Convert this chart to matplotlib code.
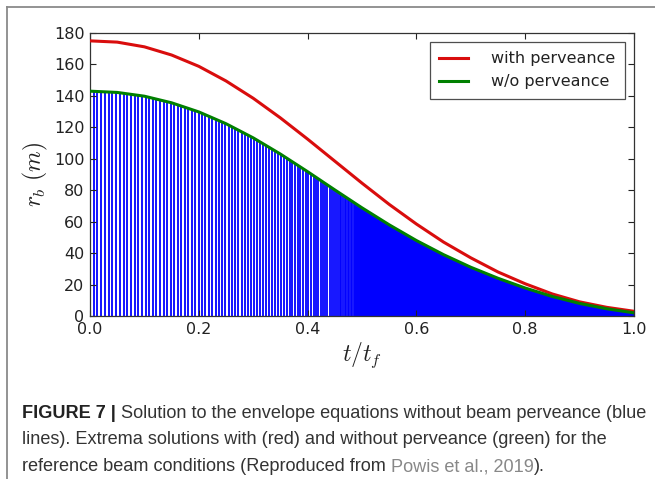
import numpy as np
import matplotlib
matplotlib.use("Agg")
import matplotlib.pyplot as plt
from matplotlib.lines import Line2D

# ---- data ----
t_env = [0.0, 0.05, 0.1, 0.15, 0.2, 0.25, 0.3, 0.35, 0.4, 0.45, 0.5,
         0.55, 0.6, 0.65, 0.7, 0.75, 0.8, 0.85, 0.9, 0.95, 1.0]
r_with_perveance = [175, 174.2, 171.2, 166, 158.8, 149.5, 138.5, 126, 112.5, 98.5, 84.5,
                    71, 58.5, 47, 37, 28, 20.5, 14, 9, 5.5, 3]
r_without_perveance = [143, 142.2, 139.8, 135.6, 129.8, 122.3, 113.3, 103, 91.8, 80.2, 68.8,
                       58, 48, 39, 31, 24, 17.8, 12.4, 8, 4.6, 2]

# spacing between successive blue oscillation spikes, read at several times
spike_period_t = [0.0, 0.1, 0.2, 0.3, 0.4, 0.45, 0.49, 0.5, 1.0]
spike_period = [0.0069, 0.0067, 0.0063, 0.0057, 0.0048, 0.0036, 0.0022, 0.0008, 0.0006]

x_ticks = [0.0, 0.2, 0.4, 0.6, 0.8, 1.0]
y_ticks = [0, 20, 40, 60, 80, 100, 120, 140, 160, 180]

legend_labels = ["with perveance", "w/o perveance"]
caption_bold = "FIGURE 7 |"
caption_line1 = " Solution to the envelope equations without beam perveance (blue"
caption_line2 = "lines). Extrema solutions with (red) and without perveance (green) for the"
caption_line3a = "reference beam conditions (Reproduced from "
caption_line3b = "Powis et al., 2019"
caption_line3c = ")."

# ---- figure ----
plt.rcParams['mathtext.fontset'] = 'cm'
W, H = 655, 479
fig = plt.figure(figsize=(W / 100, H / 100), dpi=100)
fig.patch.set_facecolor('white')
ax = fig.add_axes([90 / W, 1 - 316 / H, 544 / W, 283 / H])

# blue oscillation spikes
spikes = []
t = 0.0
while t <= 1.0:
    spikes.append(t)
    t += np.interp(t, spike_period_t, spike_period)
spikes = np.array(spikes)
heights = np.interp(spikes, t_env, r_without_perveance)
ax.vlines(spikes, 0, heights, color=(0, 0, 1), lw=1.3, zorder=1)

ax.plot(t_env, r_with_perveance, color=(0.85, 0.05, 0.05), lw=2.2,
        label=legend_labels[0], zorder=3, solid_joinstyle='round')
ax.plot(t_env, r_without_perveance, color=(0.0, 0.5, 0.0), lw=2.2,
        label=legend_labels[1], zorder=3, solid_joinstyle='round')

ax.set_xlim(0, 1)
ax.set_ylim(0, 180)
ax.set_xticks(x_ticks)
ax.set_xticklabels([f"{v:.1f}" for v in x_ticks])
ax.set_yticks(y_ticks)
ax.set_yticklabels([str(v) for v in y_ticks])
ax.tick_params(direction='in', top=True, right=True, length=4, width=0.8,
               labelsize=11.5, pad=4, colors='#222222')
for s in ax.spines.values():
    s.set_color('#333333')
    s.set_linewidth(0.9)

ax.set_xlabel(r"$t/t_f$", fontsize=17, labelpad=3, color='#222222')
ax.set_ylabel(r"$r_b\ (m)$", fontsize=17, labelpad=2.5, color='#222222')

leg = ax.legend(loc='upper right', fontsize=11.5, frameon=True, fancybox=False,
                handlelength=1.8, borderaxespad=0.55, handletextpad=1.45,
                borderpad=0.6, labelspacing=0.5)
leg.get_frame().set_edgecolor('#222222')
leg.get_frame().set_linewidth(0.9)
for txt in leg.get_texts():
    txt.set_color('#222222')

# outer frame (cut off at right and bottom)
fig.add_artist(Line2D([7 / W, 7 / W], [0, 1 - 7 / H], transform=fig.transFigure,
                      color='#8a8a8a', lw=1.3))
fig.add_artist(Line2D([7 / W, 1], [1 - 7 / H, 1 - 7 / H], transform=fig.transFigure,
                      color='#8a8a8a', lw=1.3))

# caption
cap_font = dict(family='Liberation Sans', fontsize=13.05)
renderer = fig.canvas.get_renderer()
x0 = 22 / W

def seq(parts, ybase):
    x = x0
    for text, color, weight in parts:
        tt = fig.text(x, 1 - ybase / H, text, color=color, weight=weight,
                      va='baseline', ha='left', **cap_font)
        bb = tt.get_window_extent(renderer=renderer)
        x = bb.x1 / W

seq([(caption_bold, '#222222', 'bold'), (caption_line1, '#333333', 'normal')], 418)
seq([(caption_line2, '#333333', 'normal')], 444.5)
seq([(caption_line3a, '#333333', 'normal'), (caption_line3b, '#888888', 'normal'),
     (caption_line3c, '#333333', 'normal')], 471)

fig.savefig("out.png", dpi=100)
